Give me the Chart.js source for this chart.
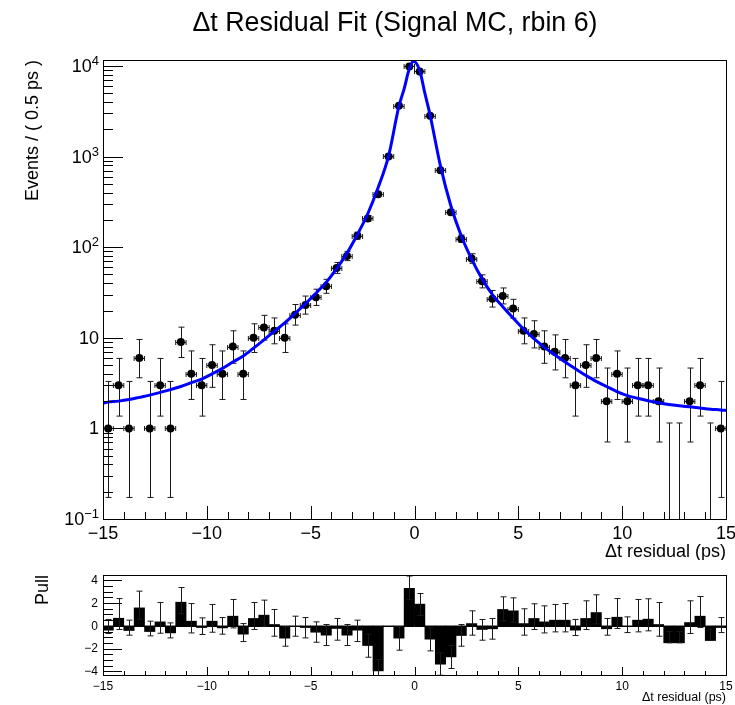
<!DOCTYPE html>
<html><head><meta charset="utf-8">
<script src="https://cdn.jsdelivr.net/npm/chart.js@4/dist/chart.umd.min.js"></script>
<style>
html,body{margin:0;padding:0;background:#fff;}
#wrap{position:relative;width:735px;height:705px;overflow:hidden;background:#fff;}
#c1{position:absolute;left:0;top:0;}
#c2{position:absolute;left:0;top:560px;}
</style></head><body>
<div id="wrap"><canvas id="c1" width="735" height="560"></canvas><canvas id="c2" width="735" height="145"></canvas></div>
<script>
// ---------------- data ----------------
const binCenters = [-14.75,-14.25,-13.75,-13.25,-12.75,-12.25,-11.75,-11.25,-10.75,-10.25,
  -9.75,-9.25,-8.75,-8.25,-7.75,-7.25,-6.75,-6.25,-5.75,-5.25,
  -4.75,-4.25,-3.75,-3.25,-2.75,-2.25,-1.75,-1.25,-0.75,-0.25,
  0.25,0.75,1.25,1.75,2.25,2.75,3.25,3.75,4.25,4.75,
  5.25,5.75,6.25,6.75,7.25,7.75,8.25,8.75,9.25,9.75,
  10.25,10.75,11.25,11.75,12.25,12.75,13.25,13.75,14.25,14.75];
const binHalfWidth = 0.25;
const counts = [1,3,1,6,1,3,1,9,4,3,
  5,4,8,4,10,13,12,10,18,23,
  28,37,59,80,134,208,385,1004,3640,9880,
  8710,2825,705,243,124,75,42,27,29,21,
  12,11,8,7,6,3,5,6,2,4,
  2,3,3,2,0,0,2,3,0,1];
const errLow = [0.827,1.633,0.827,2.38,0.827,1.633,0.827,2.943,1.914,1.633,
  2.16,1.914,2.768,1.914,3.109,3.559,3.415,3.109,4.19,4.75,
  5.24,6.03,7.63,8.9,11.5,14.4,19.6,31.7,60.3,99.4,
  93.3,53.1,26.5,15.6,11.1,8.6,6.43,5.15,5.34,4.53,
  3.415,3.266,2.768,2.581,2.38,1.633,2.16,2.38,1.292,1.914,
  1.292,1.633,1.633,1.292,0,0,1.292,1.633,0,0.827];
const errHigh = [2.3,2.918,2.3,3.584,2.3,2.918,2.3,4.11,3.163,2.918,
  3.382,3.163,3.945,3.163,4.27,4.7,4.56,4.27,5.3,5.9,
  6.4,7.2,8.8,10.0,12.6,15.5,20.6,32.7,61.3,100.4,
  94.3,54.1,27.5,16.6,12.2,9.7,7.6,6.3,6.5,5.6,
  4.56,4.42,3.945,3.77,3.584,2.918,3.382,3.584,2.638,3.163,
  2.638,2.918,2.918,2.638,1.148,1.148,2.638,2.918,1.148,2.3];

const curveX = [-15,-14.75,-14.25,-13.75,-13.25,-12.75,-12.25,-11.75,-11.25,-10.75,-10.25,
  -9.75,-9.25,-8.75,-8.25,-7.75,-7.25,-6.75,-6.25,-5.75,-5.25,-4.75,-4.25,-3.75,-3.25,
  -2.75,-2.25,-1.75,-1.25,-0.75,-0.5,-0.25,-0.05,0.25,0.5,0.75,1.25,1.75,2.25,2.75,
  3.25,3.75,4.25,4.75,5.25,5.75,6.25,6.75,7.25,7.75,8.25,8.75,9.25,9.75,10.25,10.75,
  11.25,11.75,12.25,12.75,13.25,13.75,14.25,14.75,15];
const curveY = [1.9,1.95,2.0,2.08,2.2,2.33,2.5,2.68,2.9,3.2,3.5,
  4.0,4.6,5.4,6.3,7.7,9.5,11.8,14.6,18.6,23.8,31,41,58,86,
  138,234,455,1010,3600,5600,9300,11300,8900,5000,2880,790,287,134,74,
  45,30,22,16.5,12.5,9.8,7.9,6.5,5.4,4.55,3.85,3.3,2.9,2.55,2.3,2.15,
  2.02,1.92,1.84,1.78,1.73,1.68,1.63,1.6,1.58];

const pullValues = [-0.38,0.67,-0.41,1.58,-0.5,0.35,-0.62,2.08,0.41,-0.15,0.41,-0.18,0.85,-0.73,0.65,
  0.94,0.12,-1.08,-0.05,-0.15,-0.56,-0.82,-0.23,-0.82,-0.38,-1.73,-3.96,0,-1.08,3.3,
  1.91,-1.17,-3.37,-2.73,-0.85,0.2,-0.32,-0.26,1.44,1.32,0.2,0.65,0.35,0.5,0.5,
  -0.38,0.65,1.17,-0.26,0.76,-0.06,0.5,0.59,0.12,-1.49,-1.49,0.29,0.85,-1.29,-0.15];
const pullHigh = [0.56,2.4,0.5,3.05,0.41,2.05,0.26,3.37,1.96,0.7,1.88,0.73,2.32,0.2,2.05,
  2.26,1.44,-0.08,0.85,0.73,0.35,0.12,0.65,0.12,0.5,-0.73,-2.96,null,-0.08,4.38,
  2.84,-0.17,-2.37,-1.73,0.12,1.32,0.56,0.65,2.55,2.46,1.5,1.94,1.76,1.88,1.96,
  0.56,2.2,2.73,0.65,2.4,0.79,2.32,2.38,2.05,-0.49,-0.49,2.2,2.58,-0.29,0.73];
const pullLow = [-0.67,-0.32,-0.82,0.58,-0.88,-0.65,-1.06,1.08,-0.62,-0.76,-0.56,-0.73,-0.18,-1.38,-0.32,
  -0.06,-0.91,-1.79,-0.91,-1.06,-1.44,-1.73,-1.26,-1.73,-1.38,-2.76,-4.5,null,-2.14,2.3,
  0.91,-2.2,-4.34,-3.75,-1.79,-0.82,-1.26,-1.17,0.44,0.32,-0.82,-0.32,-0.62,-0.53,-0.53,
  -0.85,-0.32,0.17,-0.82,-0.23,-0.59,-0.53,-0.44,-0.91,-1.49,-1.49,-0.67,-0.15,-1.29,-0.59];

const xTickValues = [-15,-10,-5,0,5,10,15];
const xTickLabels = ['\u221215','\u221210','\u22125','0','5','10','15'];
const yTickValues = [0.1,1,10,100,1000,10000];
const yTickBase = ['10','1','10','10','10','10'];
const yTickExp = ['\u22121','','','2','3','4'];
const pullTickValues = [-4,-2,0,2,4];
const pullTickLabels = ['\u22124','\u22122','0','2','4'];

const titleText = '\u0394t Residual Fit (Signal MC, rbin 6)';
const xTitle = '\u0394t residual (ps)';
const yTitle = 'Events / ( 0.5 ps )';
const pullTitle = 'Pull';

// ---------------- helpers ----------------
const FAM = '"Liberation Sans", Arial, Helvetica, sans-serif';
function font(px){ return px + 'px ' + FAM; }
function seg(ctx,x1,y1,x2,y2){ ctx.beginPath(); ctx.moveTo(x1,y1); ctx.lineTo(x2,y2); ctx.stroke(); }
function clipArea(ctx,a){ ctx.beginPath(); ctx.rect(a.left,a.top,a.right-a.left,a.bottom-a.top); ctx.clip(); }

const mainDecor = {
  id: 'mainDecor',
  beforeDatasetDraw(chart, args){
    if (args.index !== 1) return;
    const ctx = chart.ctx, xs = chart.scales.x, ys = chart.scales.y, a = chart.chartArea;
    ctx.save(); clipArea(ctx,a);
    ctx.strokeStyle = '#1a1a1a'; ctx.lineWidth = 1;
    for (let i = 0; i < binCenters.length; i++){
      const n = counts[i];
      const x = Math.round(xs.getPixelForValue(binCenters[i])) + 0.5;
      const lo = n - errLow[i], hi = n + errHigh[i];
      const yhi = ys.getPixelForValue(hi);
      const ylo = lo > ys.min ? ys.getPixelForValue(lo) : a.bottom + 2;
      seg(ctx, x, ylo, x, yhi);
      seg(ctx, x-3, yhi, x+3, yhi);
      if (lo > ys.min) seg(ctx, x-3, ylo, x+3, ylo);
      if (n > 0){
        const yc = Math.round(ys.getPixelForValue(n)) + 0.5;
        const xl = xs.getPixelForValue(binCenters[i]-binHalfWidth);
        const xr = xs.getPixelForValue(binCenters[i]+binHalfWidth);
        seg(ctx, xl, yc, xr, yc);
        seg(ctx, xl, yc-2.5, xl, yc+2.5);
        seg(ctx, xr, yc-2.5, xr, yc+2.5);
      }
    }
    ctx.restore();
  },
  afterDraw(chart){
    const ctx = chart.ctx, xs = chart.scales.x, ys = chart.scales.y, a = chart.chartArea;
    ctx.save();
    ctx.strokeStyle = '#000'; ctx.lineWidth = 1;
    ctx.strokeRect(a.left+0.5, a.top+0.5, a.right-a.left, a.bottom-a.top);
    for (const v of yTickValues){
      const y = Math.round(ys.getPixelForValue(v))+0.5;
      seg(ctx, a.left, y, a.left+20, y);
    }
    for (let k = -1; k <= 4; k++){
      for (let m = 2; m <= 9; m++){
        const v = m*Math.pow(10,k);
        if (v > ys.max) continue;
        const y = Math.round(ys.getPixelForValue(v))+0.5;
        seg(ctx, a.left, y, a.left+10, y);
      }
    }
    for (let v = -15; v <= 15; v++){
      const x = Math.round(xs.getPixelForValue(v))+0.5;
      const len = (v % 5 === 0) ? 13 : 7;
      seg(ctx, x, a.bottom, x, a.bottom-len);
    }
    ctx.fillStyle = '#000';
    const rx = a.left - 4;
    for (let i = 0; i < yTickValues.length; i++){
      const y = ys.getPixelForValue(yTickValues[i]);
      ctx.font = font(13);
      const we = yTickExp[i] ? ctx.measureText(yTickExp[i]).width : 0;
      ctx.textAlign = 'left'; ctx.textBaseline = 'alphabetic';
      if (yTickExp[i]) ctx.fillText(yTickExp[i], rx - we, y - 1);
      ctx.font = font(18); ctx.textAlign = 'right'; ctx.textBaseline = 'middle';
      ctx.fillText(yTickBase[i], rx - we, y + 1);
    }
    ctx.font = font(18); ctx.textAlign = 'center'; ctx.textBaseline = 'alphabetic';
    for (let i = 0; i < xTickValues.length; i++){
      ctx.fillText(xTickLabels[i], xs.getPixelForValue(xTickValues[i]), a.bottom + 20);
    }
    ctx.textAlign = 'right';
    ctx.fillText(xTitle, a.right, a.bottom + 38);
    ctx.save();
    ctx.translate(33, a.top); ctx.rotate(-Math.PI/2);
    ctx.textAlign = 'right'; ctx.textBaseline = 'middle';
    ctx.fillText(yTitle, 0, 0);
    ctx.restore();
    ctx.font = font(26.8); ctx.textAlign = 'center'; ctx.textBaseline = 'alphabetic';
    ctx.fillText(titleText, 395, 31);
    ctx.restore();
  }
};

const pullDecor = {
  id: 'pullDecor',
  afterDatasetsDraw(chart){
    const ctx = chart.ctx, xs = chart.scales.x, ys = chart.scales.y, a = chart.chartArea;
    ctx.save(); clipArea(ctx,a);
    ctx.strokeStyle = '#000'; ctx.lineWidth = 1;
    const y0 = Math.round(ys.getPixelForValue(0))+0.5;
    seg(ctx, a.left, y0, a.right, y0);
    ctx.strokeStyle = '#1a1a1a';
    for (let i = 0; i < binCenters.length; i++){
      if (pullHigh[i] === null || pullLow[i] === null) continue;
      const x = Math.round(xs.getPixelForValue(binCenters[i]))+0.5;
      const yh = ys.getPixelForValue(pullHigh[i]);
      const yl = ys.getPixelForValue(pullLow[i]);
      seg(ctx, x, yl, x, yh);
      seg(ctx, x-3, yh, x+3, yh);
      seg(ctx, x-3, yl, x+3, yl);
    }
    ctx.restore();
  },
  afterDraw(chart){
    const ctx = chart.ctx, xs = chart.scales.x, ys = chart.scales.y, a = chart.chartArea;
    ctx.save();
    ctx.strokeStyle = '#000'; ctx.lineWidth = 1;
    ctx.strokeRect(a.left+0.5, a.top+0.5, a.right-a.left, a.bottom-a.top);
    for (let v = -4; v <= 4; v += 0.5){
      const y = Math.round(ys.getPixelForValue(v))+0.5;
      const major = (Math.abs(v) % 2 === 0);
      seg(ctx, a.left, y, a.left + (major ? 19 : 10), y);
    }
    for (let v = -15; v <= 15; v++){
      const x = Math.round(xs.getPixelForValue(v))+0.5;
      seg(ctx, x, a.bottom, x, a.bottom - ((v % 5 === 0) ? 8 : 4));
    }
    ctx.fillStyle = '#000';
    ctx.font = font(12); ctx.textAlign = 'right'; ctx.textBaseline = 'middle';
    for (let i = 0; i < pullTickValues.length; i++){
      ctx.fillText(pullTickLabels[i], a.left - 5, ys.getPixelForValue(pullTickValues[i]) + 0.5);
    }
    ctx.textAlign = 'center'; ctx.textBaseline = 'alphabetic';
    for (let i = 0; i < xTickValues.length; i++){
      ctx.fillText(xTickLabels[i], xs.getPixelForValue(xTickValues[i]), a.bottom + 15);
    }
    ctx.font = font(12.5); ctx.textAlign = 'right';
    ctx.fillText(xTitle, a.right, a.bottom + 26);
    ctx.save();
    ctx.translate(43, a.top); ctx.rotate(-Math.PI/2);
    ctx.font = font(18); ctx.textAlign = 'right'; ctx.textBaseline = 'middle';
    ctx.fillText(pullTitle, 0, 0);
    ctx.restore();
    ctx.restore();
  }
};

new Chart(document.getElementById('c1'), {
  type: 'scatter',
  data: { datasets: [
    { type: 'line', label: 'fit', data: curveX.map((x,i)=>({x:x, y:curveY[i]})),
      borderColor: '#0000ff', borderWidth: 3, pointRadius: 0, fill: false,
      cubicInterpolationMode: 'monotone', order: 0 },
    { type: 'scatter', label: 'data', data: binCenters.map((x,i)=>({x:x, y: counts[i] > 0 ? counts[i] : null})),
      pointRadius: 4, pointHoverRadius: 4, backgroundColor: '#000', borderColor: '#000', borderWidth: 0, order: 1 }
  ]},
  options: {
    responsive: false, animation: false, events: [],
    layout: { padding: { left: 103, right: 9, top: 60, bottom: 41 } },
    plugins: { legend: { display: false }, tooltip: { enabled: false } },
    scales: {
      x: { type: 'linear', min: -15, max: 15, display: false, bounds: 'data' },
      y: { type: 'logarithmic', min: 0.1, max: 11650, display: false, bounds: 'data' }
    }
  },
  plugins: [mainDecor]
});

new Chart(document.getElementById('c2'), {
  type: 'bar',
  data: { datasets: [
    { label: 'pull', data: binCenters.map((x,i)=>({x:x, y:pullValues[i]})),
      backgroundColor: '#000', borderWidth: 0, barPercentage: 1, categoryPercentage: 1 }
  ]},
  options: {
    responsive: false, animation: false, events: [],
    layout: { padding: { left: 103, right: 9, top: 15, bottom: 30 } },
    plugins: { legend: { display: false }, tooltip: { enabled: false } },
    scales: {
      x: { type: 'linear', min: -15, max: 15, display: false, offset: false, bounds: 'data' },
      y: { type: 'linear', min: -4.32, max: 4.47, display: false, bounds: 'data' }
    }
  },
  plugins: [pullDecor]
});
</script>
</body></html>
